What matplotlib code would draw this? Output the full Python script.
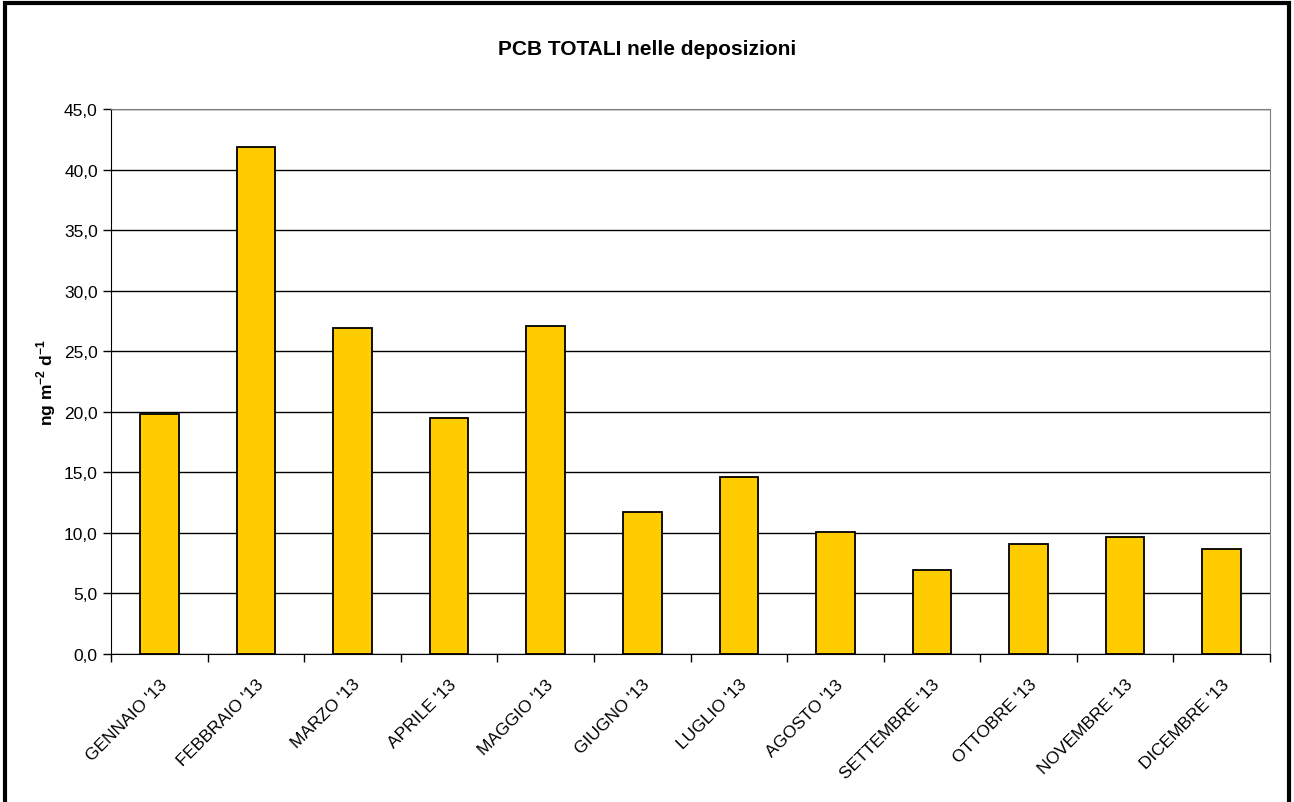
import matplotlib.pyplot as plt
from matplotlib.patches import Rectangle
from matplotlib.ticker import FuncFormatter, MultipleLocator, FixedLocator
import numpy as np

mesi = ["GENNAIO '13", "FEBBRAIO '13", "MARZO '13", "APRILE '13", "MAGGIO '13",
        "GIUGNO '13", "LUGLIO '13", "AGOSTO '13", "SETTEMBRE '13", "OTTOBRE '13",
        "NOVEMBRE '13", "DICEMBRE '13"]
pcb = [19.8, 41.9, 26.9, 19.5, 27.1, 11.7, 14.6, 10.1, 6.9, 9.1, 9.7, 8.7]

plt.rcParams['font.family'] = ['Liberation Sans', 'DejaVu Sans']
plt.rcParams['mathtext.fontset'] = 'custom'
plt.rcParams['mathtext.bf'] = 'Liberation Sans:bold'
plt.rcParams['mathtext.rm'] = 'Liberation Sans'

fig = plt.figure(figsize=(12.94, 8.03), dpi=100)
ax = fig.add_axes([0.0858, 0.1843, 0.8957, 0.6787])

x = np.arange(len(mesi))
ax.bar(x, pcb, width=0.4, color='#FFCC00', edgecolor='black', linewidth=1.3, zorder=3)

ax.set_xlim(-0.5, len(mesi) - 0.5)
ax.set_ylim(0, 45)
ax.yaxis.set_major_locator(MultipleLocator(5))
ax.yaxis.set_major_formatter(FuncFormatter(lambda v, p: f'{v:.1f}'.replace('.', ',')))
ax.grid(axis='y', color='black', linewidth=1, zorder=0)

# tick fra le categorie, etichette al centro
ax.xaxis.set_major_locator(FixedLocator(np.arange(-0.5, len(mesi), 1)))
ax.xaxis.set_major_formatter(plt.NullFormatter())
ax.xaxis.set_minor_locator(FixedLocator(x))
ax.set_xticklabels(mesi, minor=True, rotation=45, ha='right', rotation_mode='anchor', fontsize=12.5)
ax.tick_params(axis='x', which='minor', length=0, pad=16)
ax.tick_params(axis='x', which='major', direction='out', length=6, width=1)
ax.tick_params(axis='y', direction='out', length=6, width=1, labelsize=12.5)

ax.spines['top'].set_color('#808080')
ax.spines['right'].set_color('#808080')
ax.spines['left'].set_color('black')
ax.spines['bottom'].set_color('black')

ax.set_ylabel('ng m$^{\\mathbf{-2}}$ d$^{\\mathbf{-1}}$', fontsize=12.5, fontweight='bold', labelpad=4)
fig.text(0.5, 0.938, 'PCB TOTALI nelle deposizioni', ha='center', va='center',
         fontsize=15, fontweight='bold')

# cornice esterna
fig.patches.append(Rectangle((0.004, -0.01), 0.992, 1.005, transform=fig.transFigure,
                             fill=False, edgecolor='black', linewidth=3))

fig.savefig('out.png', dpi=100)
